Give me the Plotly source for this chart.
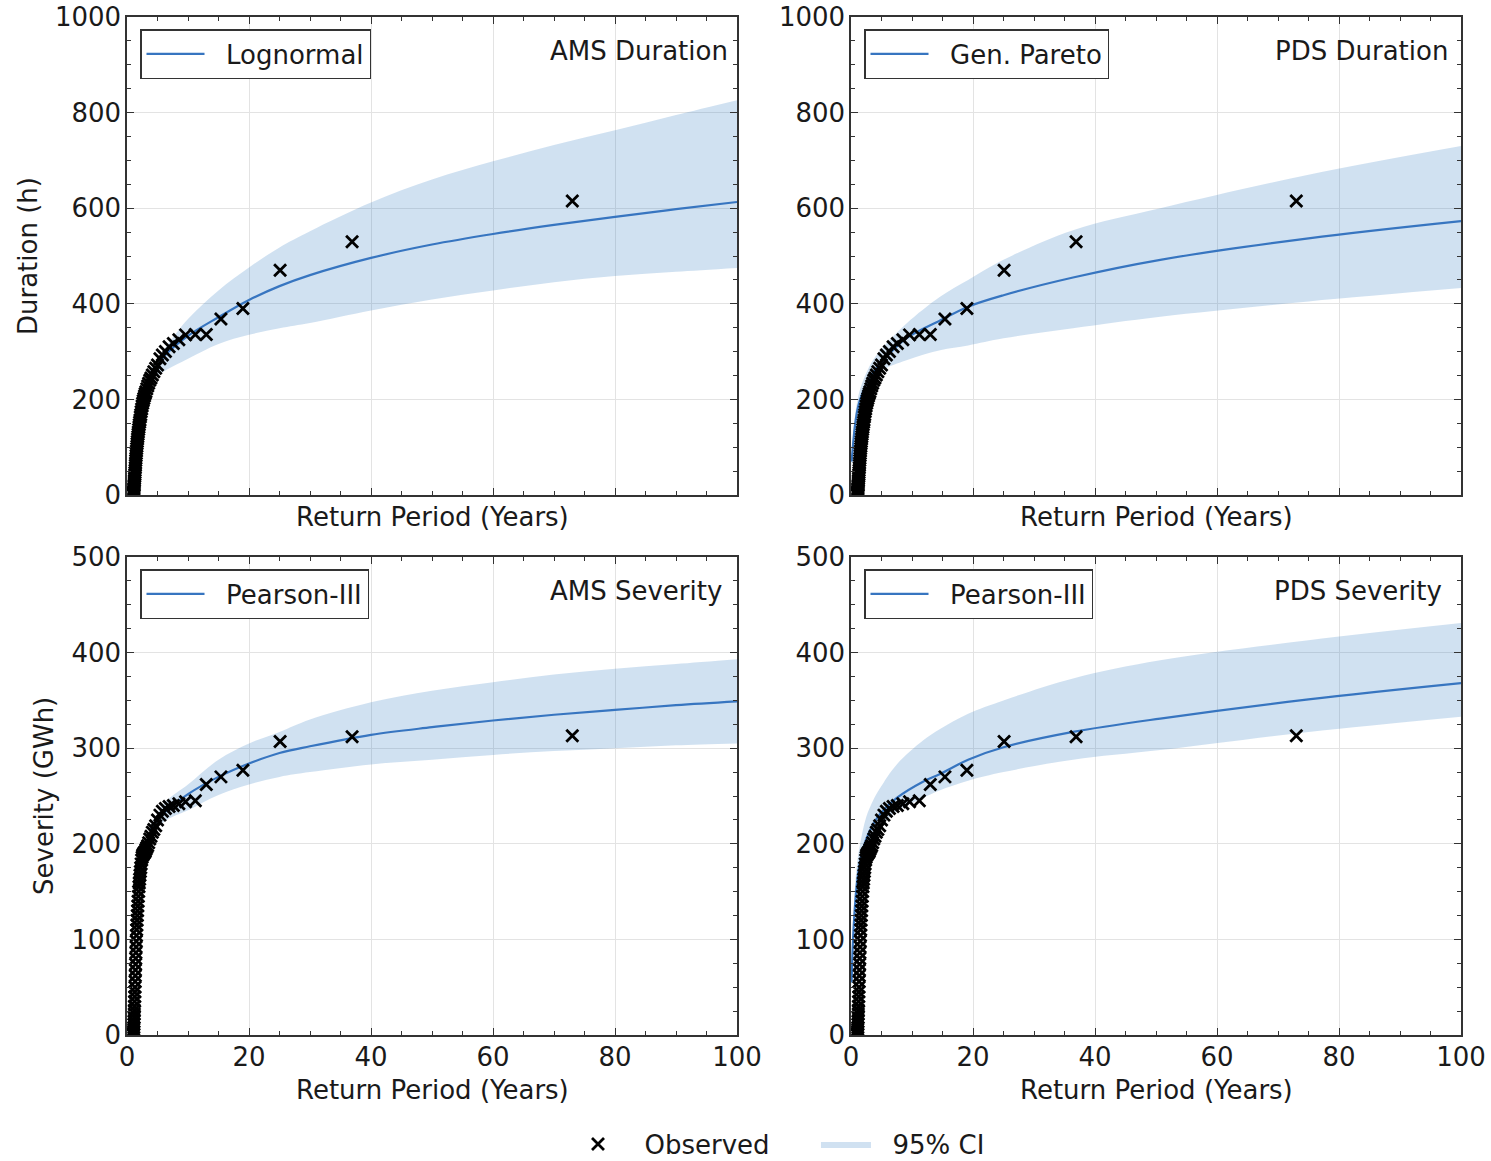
import plotly.graph_objects as go

W, H = 1491, 1161
FONT = "DejaVu Sans"
FS = 26
LINE_C = "#3775c0"
BAND_C = "rgba(40,120,190,0.22)"
AX_C = "#333333"
TXT_C = "#1a1a1a"

# ---------------- data ----------------
# observed events, sorted by rank (return period in years)
obs_return_period = [73.0, 36.9, 25.1, 19.0, 15.4, 13.0, 11.2, 9.6, 8.5, 7.6,
                     6.9, 6.3, 5.8, 5.4, 5.0, 4.7, 4.4, 4.15, 3.93, 3.73,
                     3.55, 3.39, 3.24, 3.1, 2.98, 2.87, 2.76, 2.66, 2.57, 2.48,
                     2.4, 2.32, 2.25, 2.19, 2.13, 2.07, 2.01, 1.96, 1.91, 1.86,
                     1.82, 1.77, 1.73, 1.69, 1.65, 1.62, 1.58, 1.55, 1.52, 1.49,
                     1.46, 1.43, 1.41, 1.38, 1.36, 1.33, 1.31, 1.29, 1.27, 1.24,
                     1.22, 1.2, 1.19, 1.17, 1.15, 1.13, 1.12, 1.1, 1.08, 1.07,
                     1.05, 1.04, 1.03]
obs_duration = [615, 530, 470, 390, 368, 336, 336, 335, 325, 317,
                310, 300, 293, 285, 272, 265, 258, 251, 245, 240,
                234, 228, 222, 216, 212, 207, 202, 197, 192, 186,
                180, 174, 168, 163, 157, 152, 147, 142, 137, 132,
                127, 122, 117, 112, 107, 102, 97, 92, 87, 82,
                77, 72, 67, 62, 57, 52, 47, 43, 39, 35,
                31, 27, 23, 20, 17, 14, 11, 8, 6, 4,
                2, 1, 0]
obs_severity = [313, 312, 307, 277, 270, 262, 245, 244, 242, 240,
                239, 237, 234, 230, 225, 219, 215, 212, 208, 205,
                201, 198, 196, 194, 192, 191, 190, 189, 188, 186,
                183, 179, 175, 171, 167, 163, 159, 155, 150, 145,
                140, 135, 130, 125, 120, 115, 110, 104, 98, 92,
                86, 80, 74, 68, 62, 56, 50, 45, 40, 35,
                30, 26, 22, 18, 14, 11, 8, 6, 4, 2,
                1, 0.5, 0]

# AMS fits
ams_T = [3.8, 5, 6.5, 10, 15, 20, 25, 30, 40, 50, 60, 70, 80, 90, 100]
ams_dur_fit = [252, 272, 296, 333, 372, 408, 437, 460, 496, 524, 546, 565, 582, 598, 613]
ams_dur_lo = [242, 250, 262, 285, 316, 335, 349, 360, 386, 409, 428, 445, 458, 467, 475]
ams_dur_hi = [262, 285, 312, 368, 428, 476, 518, 552, 612, 660, 698, 732, 763, 795, 826]
ams_sev_fit = [214, 225, 235, 252, 270, 284, 295, 302, 314, 322, 329, 335, 340, 345, 349]
ams_sev_lo = [207, 217, 225, 235, 251, 262, 270, 275, 283, 288, 293, 297, 300, 303, 305]
ams_sev_hi = [220, 232, 245, 262, 288, 305, 317, 330, 348, 360, 369, 377, 383, 388, 393]

# PDS fits
pds_dur_T = [0.1, 0.3, 0.6, 1.0, 1.5, 2.6, 3.6, 5.3, 9.1, 14.6, 19.2, 25, 36.4, 50.7, 75, 100]
pds_dur_fit = [70, 100, 140, 175, 200, 234, 255, 282, 328, 365, 394, 418, 455, 492, 537, 573]
pds_dur_lo = [55, 85, 120, 155, 185, 218, 240, 262, 282, 303, 313, 328, 349, 373, 405, 433]
pds_dur_hi = [90, 120, 160, 195, 222, 258, 282, 310, 359, 415, 450, 492, 554, 600, 670, 730]
pds_sev_T = [0.1, 0.3, 0.6, 1.0, 1.5, 2.5, 3.6, 4.75, 7.5, 11.8, 14.6, 19.2, 25, 36.4, 50.7, 75, 100]
pds_sev_fit = [55, 95, 130, 160, 182, 205, 220, 231, 248, 265, 273, 288, 301, 317, 331, 351, 368]
pds_sev_lo = [40, 75, 110, 140, 165, 188, 206, 217, 234, 248, 256, 266, 275, 288, 298, 317, 333]
pds_sev_hi = [75, 115, 150, 180, 200, 228, 245, 258, 283, 308, 320, 336, 350, 373, 392, 413, 431]

panel_titles = ["AMS Duration", "PDS Duration", "AMS Severity", "PDS Severity"]
dist_names = ["Lognormal", "Gen. Pareto", "Pearson-III", "Pearson-III"]
x_title = "Return Period (Years)"
y_titles = ["Duration (h)", "Severity (GWh)"]

panels = [
    (ams_T, ams_dur_fit, ams_dur_lo, ams_dur_hi, obs_duration),
    (pds_dur_T, pds_dur_fit, pds_dur_lo, pds_dur_hi, obs_duration),
    (ams_T, ams_sev_fit, ams_sev_lo, ams_sev_hi, obs_severity),
    (pds_sev_T, pds_sev_fit, pds_sev_lo, pds_sev_hi, obs_severity),
]

# ---------------- layout geometry (pixels) ----------------
xl = [(127, 737), (851, 1461)]
yt = [(17, 495), (557, 1035)]


def px_x(p):
    return p / W


def px_y(p):
    return 1 - p / H


NB = "\u00a0"
fig = go.Figure()

for i, (T, fit, lo, hi, obs) in enumerate(panels):
    n = i + 1
    xa = "x" if n == 1 else f"x{n}"
    ya = "y" if n == 1 else f"y{n}"
    leg = "legend" if n == 1 else f"legend{n}"
    fig.add_trace(go.Scatter(x=T, y=lo, mode="lines", line=dict(width=0, color=BAND_C, shape="spline"),
                             xaxis=xa, yaxis=ya, showlegend=False, hoverinfo="skip"))
    fig.add_trace(go.Scatter(x=T, y=hi, mode="lines", line=dict(width=0, color=BAND_C, shape="spline"),
                             fill="tonexty", fillcolor=BAND_C, xaxis=xa, yaxis=ya,
                             name=NB * 2 + "95% CI", legend="legend5", showlegend=(n == 1)))
    fig.add_trace(go.Scatter(x=T, y=fit, mode="lines", line=dict(width=2.2, color=LINE_C, shape="spline"),
                             xaxis=xa, yaxis=ya, name=NB * 2 + dist_names[i], legend=leg, showlegend=True))
    fig.add_trace(go.Scatter(x=obs_return_period, y=obs, mode="markers",
                             marker=dict(symbol="x-thin", size=12, color="black",
                                         line=dict(width=2.8, color="black")),
                             xaxis=xa, yaxis=ya, name=NB * 2 + "Observed" + NB * 5, legend="legend5",
                             showlegend=(n == 1)))

layout = dict(
    width=W, height=H, margin=dict(l=0, r=0, t=0, b=0, autoexpand=False),
    paper_bgcolor="white", plot_bgcolor="white",
    font=dict(family=FONT, size=FS, color=TXT_C),
)

for i in range(4):
    n = i + 1
    col = i % 2
    row = i // 2
    xk = "xaxis" if n == 1 else f"xaxis{n}"
    yk = "yaxis" if n == 1 else f"yaxis{n}"
    xa = "x" if n == 1 else f"x{n}"
    ya = "y" if n == 1 else f"y{n}"
    x0, x1 = xl[col]
    y0, y1 = yt[row]
    layout[xk] = dict(
        domain=[px_x(x0), px_x(x1)], anchor=ya, range=[0, 100], tick0=0, dtick=20,
        automargin=False,
        ticks="inside", ticklen=7, tickwidth=1.2, tickcolor=AX_C,
        showline=True, linecolor=AX_C, linewidth=1.5, mirror="ticks",
        showgrid=True, gridcolor="#e3e3e3", gridwidth=1, zeroline=False,
        showticklabels=(row == 1), tickfont=dict(size=FS, family=FONT, color=TXT_C),
        ticklabelstandoff=-2,
        minor=dict(dtick=5, ticks="inside", ticklen=4, tickcolor=AX_C, tickwidth=1, showgrid=False),
    )
    ymax = 1000 if row == 0 else 500
    ydt = 200 if row == 0 else 100
    ymin_dt = 50 if row == 0 else 25
    layout[yk] = dict(
        domain=[px_y(y1), px_y(y0)], anchor=xa, range=[0, ymax], tick0=0, dtick=ydt,
        automargin=False,
        ticks="inside", ticklen=7, tickwidth=1.2, tickcolor=AX_C,
        showline=True, linecolor=AX_C, linewidth=1.5, mirror="ticks",
        showgrid=True, gridcolor="#e3e3e3", gridwidth=1, zeroline=False,
        tickfont=dict(size=FS, family=FONT, color=TXT_C), ticklabelstandoff=-1,
        minor=dict(dtick=ymin_dt, ticks="inside", ticklen=4, tickcolor=AX_C, tickwidth=1, showgrid=False),
    )
    lk = "legend" if n == 1 else f"legend{n}"
    layout[lk] = dict(
        x=px_x(x0 + 13), y=px_y(y0 + 12), xanchor="left", yanchor="top",
        bgcolor="white", bordercolor=AX_C, borderwidth=1.5,
        font=dict(size=FS, family=FONT, color=TXT_C), itemwidth=58,
    )

layout["legend5"] = dict(
    orientation="h", x=px_x(568), xanchor="left", y=px_y(1144), yanchor="middle",
    bgcolor="rgba(0,0,0,0)", borderwidth=0, font=dict(size=FS, family=FONT, color=TXT_C),
    itemwidth=50, traceorder="reversed",
)

annotations = []
label_right = [730, 1450, 724, 1444]
for i in range(4):
    row = i // 2
    y0 = yt[row][0]
    annotations.append(dict(text=panel_titles[i], xref="paper", yref="paper",
                            x=px_x(label_right[i]), y=px_y(y0 + 34), xanchor="right", yanchor="middle",
                            showarrow=False, font=dict(size=FS, family=FONT, color=TXT_C)))
for col in range(2):
    cx = (xl[col][0] + xl[col][1]) / 2
    annotations.append(dict(text=x_title, xref="paper", yref="paper", x=px_x(cx), y=px_y(517),
                            xanchor="center", yanchor="middle", showarrow=False,
                            font=dict(size=FS, family=FONT, color=TXT_C)))
    annotations.append(dict(text=x_title, xref="paper", yref="paper", x=px_x(cx), y=px_y(1090),
                            xanchor="center", yanchor="middle", showarrow=False,
                            font=dict(size=FS, family=FONT, color=TXT_C)))
annotations.append(dict(text=y_titles[0], xref="paper", yref="paper", x=px_x(28), y=px_y(256),
                        xanchor="center", yanchor="middle", textangle=-90, showarrow=False,
                        font=dict(size=FS, family=FONT, color=TXT_C)))
annotations.append(dict(text=y_titles[1], xref="paper", yref="paper", x=px_x(44), y=px_y(796),
                        xanchor="center", yanchor="middle", textangle=-90, showarrow=False,
                        font=dict(size=FS, family=FONT, color=TXT_C)))
layout["annotations"] = annotations

fig.update_layout(**layout)
fig.write_html("out.html")
